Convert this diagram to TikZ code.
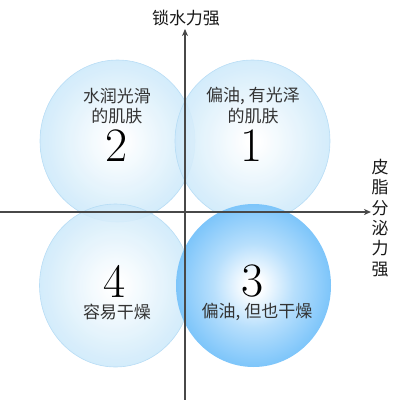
\documentclass[tikz,border=0pt]{standalone}
\usepackage{fontspec}
\usepackage{tikz}
\usetikzlibrary{arrows.meta}
\newfontfamily\cjk{Noto Sans CJK SC}
\definecolor{bubblelight}{HTML}{C6E6F9}
\definecolor{bubbleedge}{HTML}{B2DAF4}
\definecolor{bubbledeep}{HTML}{7DC5FA}
\definecolor{axisgray}{HTML}{484848}
\definecolor{textgray}{HTML}{333333}
\pgfdeclareradialshading{lightbubble}{\pgfpoint{0bp}{0bp}}{color(0bp)=(white); color(2bp)=(white); color(28bp)=(bubblelight); color(50bp)=(bubblelight)}
\pgfdeclareradialshading{deepbubble}{\pgfpoint{0bp}{0bp}}{color(0bp)=(white); color(2.5bp)=(white); color(13bp)=(bubbledeep!55); color(25bp)=(bubbledeep); color(50bp)=(bubbledeep)}
\tikzset{
  softbubble/.style={shading=lightbubble, draw=bubbleedge, line width=0.6pt, opacity=0.88},
  strongbubble/.style={shading=deepbubble, draw=none},
  quadtext/.style={font=\cjk\fontsize{17}{20}\selectfont, text=textgray, inner sep=0pt},
  quadnum/.style={font=\fontsize{48}{48}\selectfont, text=black, inner sep=0pt},
  axislabel/.style={font=\cjk\fontsize{17}{20.3}\selectfont, text=black!90, inner sep=0pt, align=center}
}
\begin{document}
\begin{tikzpicture}[x=1pt,y=-1pt]
  \useasboundingbox (0,0) rectangle (400,400);
  % four skin-type bubbles
  \path[softbubble] (117.5,141) ellipse [x radius=77.5, y radius=81];
  \path[softbubble] (252.5,141) ellipse [x radius=77.5, y radius=81];
  \path[softbubble] (115.5,285.5) ellipse [x radius=76, y radius=81.5];
  \path[strongbubble] (253.5,285.5) ellipse [x radius=77.5, y radius=81.5];
  % axes
  \coordinate (o) at (185,212);
  \coordinate (ybase) at (185,400);
  \coordinate (ytip) at (185,29);
  \coordinate (xbase) at (0,212);
  \coordinate (xtip) at (371,212);
  \draw[axisgray, line width=1.6pt, -{Stealth[length=7pt,width=6pt,inset=2pt]}] (ybase) -- (ytip);
  \draw[axisgray, line width=1.6pt, -{Stealth[length=7pt,width=6pt,inset=2pt]}] (xbase) -- (xtip);
  \node[axislabel] (ylab) at (186,18) {锁水力强};
  \node[axislabel] (xlab) at (380,218) {皮\\脂\\分\\泌\\力\\强};
  % quadrant texts
  \node[quadtext] (cap2a) at (117,96) {水润光滑};
  \node[quadtext] (cap2b) at (117,116) {的肌肤};
  \node[quadnum] (num2) at (117,146) {2};
  \node[quadtext] (cap1a) at (253,96) {偏油, 有光泽};
  \node[quadtext] (cap1b) at (253,116) {的肌肤};
  \node[quadnum] (num1) at (252,146) {1};
  \node[quadnum] (num4) at (115,281) {4};
  \node[quadtext] (cap4) at (117,312) {容易干燥};
  \node[quadnum] (num3) at (253,281) {3};
  \node[quadtext] (cap3) at (257,312) {偏油, 但也干燥};
\end{tikzpicture}
\end{document}
